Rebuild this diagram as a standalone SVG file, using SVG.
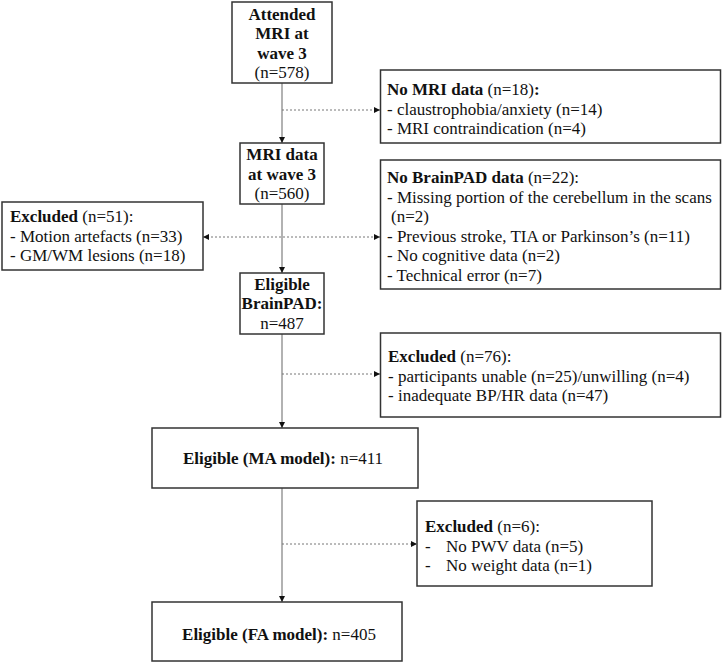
<svg xmlns="http://www.w3.org/2000/svg" width="722" height="663" viewBox="0 0 722 663">
<defs>
<marker id="ah" viewBox="0 0 10 10" refX="10" refY="5" markerWidth="6" markerHeight="6" markerUnits="userSpaceOnUse" orient="auto-start-reverse"><path d="M0,0 L10,5 L0,10 z" fill="#111"/></marker>
<style>
.box{fill:#fff;stroke:#333;stroke-width:1.5}
text{font-family:"Liberation Serif","Times New Roman",serif;font-size:17px;fill:#111}
.c{text-anchor:middle}
.b{font-weight:bold}
.main{stroke:#999;stroke-width:1.5;fill:none}
.dash{stroke:#777;stroke-width:1;stroke-dasharray:2 2;fill:none}
</style>
</defs>
<rect width="722" height="663" fill="#fff"/>
<g id="connectors">
<path class="main" d="M282,83 V143" marker-end="url(#ah)"/>
<path class="main" d="M282,204 V273" marker-end="url(#ah)"/>
<path class="main" d="M282,334 V428" marker-end="url(#ah)"/>
<path class="main" d="M282,488 V602" marker-end="url(#ah)"/>
<path class="dash" d="M282,110 H380" marker-end="url(#ah)"/>
<path class="dash" d="M203,237 H380" marker-start="url(#ah)" marker-end="url(#ah)"/>
<path class="dash" d="M282,374 H380" marker-end="url(#ah)"/>
<path class="dash" d="M282,544 H417" marker-end="url(#ah)"/>
</g>
<g id="attended">
<rect class="box" x="232" y="2" width="100" height="81"/>
<text class="c b" x="282" y="19.5">Attended</text>
<text class="c b" x="282" y="39">MRI at</text>
<text class="c b" x="282" y="58.5">wave 3</text>
<text class="c" x="282" y="78">(n=578)</text>
</g>
<g id="no-mri">
<rect class="box" x="380.5" y="70" width="340" height="73"/>
<text x="387" y="95"><tspan class="b">No MRI data</tspan> (n=18)<tspan class="b">:</tspan></text>
<text x="387" y="114.5">- claustrophobia/anxiety (n=14)</text>
<text x="387" y="134">- MRI contraindication (n=4)</text>
</g>
<g id="mri-data">
<rect class="box" x="240" y="143" width="84" height="61"/>
<text class="c b" x="282" y="160">MRI data</text>
<text class="c b" x="282" y="179.5">at wave 3</text>
<text class="c" x="282" y="199">(n=560)</text>
</g>
<g id="excluded-51">
<rect class="box" x="2" y="202" width="201" height="68"/>
<text x="10" y="222"><tspan class="b">Excluded</tspan> (n=51):</text>
<text x="10" y="241.5">- Motion artefacts (n=33)</text>
<text x="10" y="261">- GM/WM lesions (n=18)</text>
</g>
<g id="no-brainpad">
<rect class="box" x="380.5" y="160" width="340" height="129"/>
<text x="387" y="183"><tspan class="b">No BrainPAD data</tspan> (n=22):</text>
<text x="387" y="202.5">- Missing portion of the cerebellum in the scans</text>
<text x="391" y="222">(n=2)</text>
<text x="387" y="241.5">- Previous stroke, TIA or Parkinson’s (n=11)</text>
<text x="387" y="261">- No cognitive data (n=2)</text>
<text x="387" y="280.5">- Technical error (n=7)</text>
</g>
<g id="eligible-brainpad">
<rect class="box" x="240" y="273" width="84" height="61"/>
<text class="c b" x="282" y="289.5">Eligible</text>
<text class="c b" x="282" y="309">BrainPAD:</text>
<text class="c" x="282" y="328.5">n=487</text>
</g>
<g id="excluded-76">
<rect class="box" x="380.5" y="333" width="340" height="84"/>
<text x="388" y="362"><tspan class="b">Excluded</tspan> (n=76):</text>
<text x="388" y="381.5">- participants unable (n=25)/unwilling (n=4)</text>
<text x="388" y="401">- inadequate BP/HR data (n=47)</text>
</g>
<g id="eligible-ma">
<rect class="box" x="152" y="428" width="266" height="60"/>
<text class="c" x="283" y="464"><tspan class="b">Eligible (MA model):</tspan> n=411</text>
</g>
<g id="excluded-6">
<rect class="box" x="417" y="501" width="235" height="85"/>
<text x="425" y="532"><tspan class="b">Excluded</tspan> (n=6):</text>
<text x="425" y="551.5">-</text>
<text x="446" y="551.5">No PWV data (n=5)</text>
<text x="425" y="571">-</text>
<text x="446" y="571">No weight data (n=1)</text>
</g>
<g id="eligible-fa">
<rect class="box" x="152" y="602" width="250" height="59"/>
<text class="c" x="279" y="640"><tspan class="b">Eligible (FA model):</tspan> n=405</text>
</g>
</svg>
